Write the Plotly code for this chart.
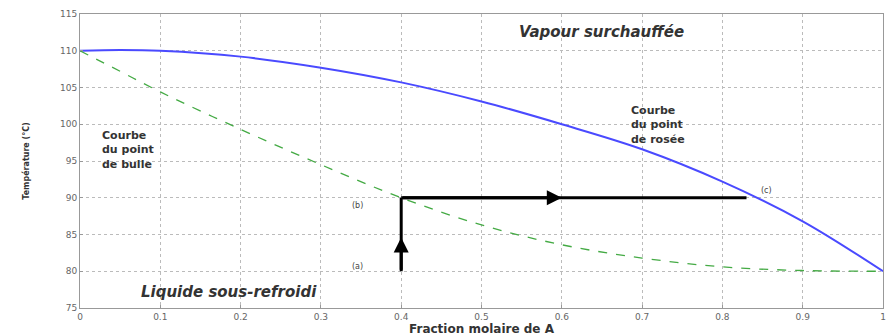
import plotly.graph_objects as go

x_vals = [0, 0.05, 0.1, 0.2, 0.3, 0.4, 0.5, 0.6, 0.7, 0.8, 0.9, 1.0]
dew_T = [110, 110.1, 110, 109.2, 107.7, 105.7, 103.1, 100.0, 96.6, 92.2, 86.8, 80.0]
bubble_T = [110, 107.2, 104.4, 99.3, 94.5, 90.0, 86.3, 83.6, 81.8, 80.6, 80.1, 80.0]

x_ticks = [0, 0.1, 0.2, 0.3, 0.4, 0.5, 0.6, 0.7, 0.8, 0.9, 1]
x_tick_labels = ["0", "0.1", "0.2", "0.3", "0.4", "0.5", "0.6", "0.7", "0.8", "0.9", "1"]
y_ticks = [75, 80, 85, 90, 95, 100, 105, 110, 115]

x_feed = 0.4
T_a, T_b = 80, 90
x_c = 0.83

FONT = "DejaVu Sans, Liberation Sans, Arial"

fig = go.Figure()
fig.add_trace(go.Scatter(x=x_vals, y=dew_T, mode="lines", line=dict(color="#4a4aff", width=2, shape="spline"), showlegend=False))
fig.add_trace(go.Scatter(x=x_vals, y=bubble_T, mode="lines", line=dict(color="#44aa44", width=1.3, dash="dash", shape="spline"), showlegend=False))
fig.add_trace(go.Scatter(x=[x_feed, x_feed], y=[T_a, T_b], mode="lines", line=dict(color="black", width=3), showlegend=False))
fig.add_trace(go.Scatter(x=[x_feed, x_c], y=[T_b, T_b], mode="lines", line=dict(color="black", width=3), showlegend=False))

fig.add_annotation(x=x_feed, y=84.6, ax=x_feed, ay=T_a, xref="x", yref="y", axref="x", ayref="y",
                   showarrow=True, arrowhead=2, arrowsize=1, arrowwidth=3, arrowcolor="black", text="")
fig.add_annotation(x=0.6, y=T_b, ax=x_feed, ay=T_b, xref="x", yref="y", axref="x", ayref="y",
                   showarrow=True, arrowhead=2, arrowsize=1, arrowwidth=3, arrowcolor="black", text="")

small = dict(family=FONT, size=8, color="#444")
fig.add_annotation(x=0.345, y=80.6, text="(a)", showarrow=False, font=small)
fig.add_annotation(x=0.345, y=89.0, text="(b)", showarrow=False, font=small)
fig.add_annotation(x=0.855, y=91.0, text="(c)", showarrow=False, font=small)

label = dict(family=FONT, size=11, color="#333", weight="bold")
fig.add_annotation(x=0.025, y=96.5, text="Courbe<br>du point<br>de bulle", showarrow=False, font=label, align="left", xanchor="left")
fig.add_annotation(x=0.684, y=99.9, text="Courbe<br>du point<br>de rosée", showarrow=False, font=label, align="left", xanchor="left")
big = dict(family=FONT, size=15, color="#333")
fig.add_annotation(x=0.649, y=112.55, text="<b><i>Vapour surchauffée</i></b>", showarrow=False, font=big)
fig.add_annotation(x=0.185, y=77.2, text="<b><i>Liquide sous-refroidi</i></b>", showarrow=False, font=big)

grid = dict(showgrid=True, gridcolor="#bbbbbb", griddash="dot", gridwidth=1, automargin=False,
            showline=True, linecolor="#999", linewidth=1, mirror=True, zeroline=False,
            ticks="inside", ticklen=3, tickcolor="#999", tickfont=dict(family=FONT, size=9, color="#666"))
fig.update_xaxes(range=[0, 1], tickvals=x_ticks, ticktext=x_tick_labels,
                 title=dict(text="<b>Fraction molaire de A</b>", font=dict(family=FONT, size=12, color="#333"), standoff=0), **grid)
fig.update_yaxes(range=[75, 115], tickvals=y_ticks,
                 title=dict(text="<b>Température (°C)</b>", font=dict(family=FONT, size=8, color="#333"), standoff=29), **grid)

fig.update_layout(width=886, height=336, margin=dict(l=80, r=3, t=14, b=28),
                  plot_bgcolor="white", paper_bgcolor="white", showlegend=False)
fig.write_html("out.html", config={"displayModeBar": False}, post_script="document.body.style.margin='0';")
